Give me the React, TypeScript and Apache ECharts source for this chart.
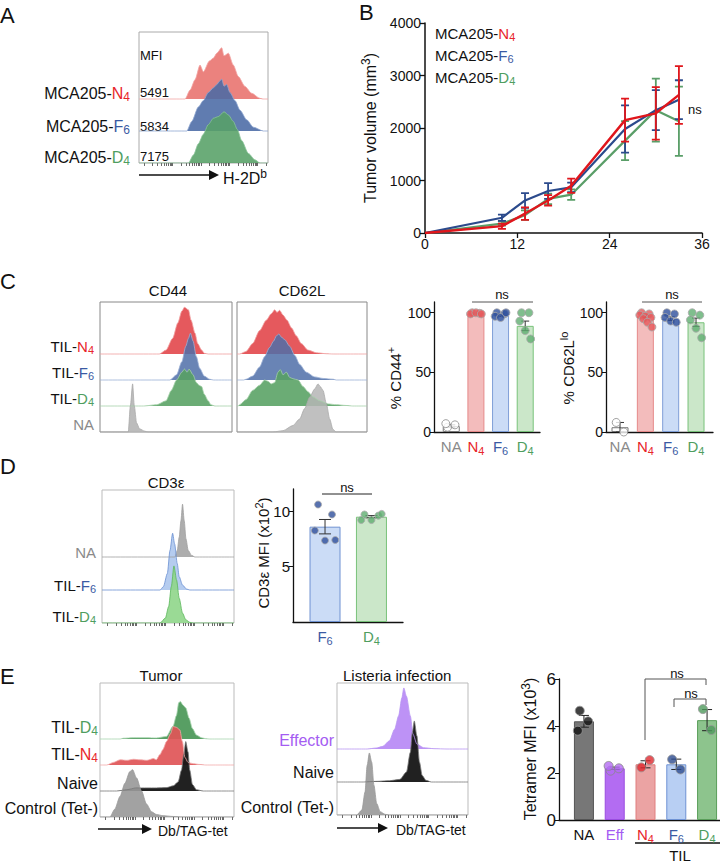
import React, { useEffect, useRef } from "react";
import * as echarts from "echarts";

const FONT = "'Liberation Sans', Arial, Helvetica, sans-serif";
const INK = "#111111";
const RED = "#e8262b";
const BLUE = "#3a5aa3";
const GREEN = "#4f9e5f";
const GRAY = "#8a8a8a";
const PURPLE = "#a45cf2";

// ---------- Panel A: H-2Db histograms (x: fluorescence 0-100, y: height in row units)
const histA_N4 = [[35.7,0],[39.6,0.28],[43.4,0.6],[47.3,1.06],[49.9,0.85],[54.6,1.19],[57.7,1.28],[60.3,1.43],[64.1,1.6],[65.9,1.35],[69.3,1.43],[73.1,1.06],[77,0.7],[82.2,0.39],[87.3,0.18],[93.8,0.02],[96,0]];
const histA_F6 = [[37,0],[40.9,0.3],[46,0.75],[49.9,0.95],[53.7,1.2],[57.7,1.35],[60.3,1.45],[62.3,1.55],[64.1,1.62],[65.9,1.4],[68,1.45],[70.5,1.2],[74.4,0.95],[78.3,0.65],[83.5,0.35],[88.6,0.12],[96.4,0]];
const histA_D4 = [[38.3,0],[42.2,0.25],[46,0.6],[49.9,0.9],[53.7,1.2],[57.7,1.4],[61.5,1.45],[65.9,1.6],[69.3,1.5],[73.1,1.3],[76.2,1.05],[79.6,0.7],[84.8,0.3],[89.9,0.1],[93.8,0]];
const mfiA = ["5491", "5834", "7175"];

// ---------- Panel B: tumor growth
const days = [0, 10, 13, 16, 19, 26, 30, 33];
const volN4 = [0, 130, 370, 620, 900, 2150, 2280, 2630];
const semN4 = [0, 50, 120, 100, 135, 410, 500, 550];
const volF6 = [0, 290, 620, 800, 870, 1980, 2340, 2540];
const semF6 = [0, 60, 140, 150, 90, 450, 380, 370];
const volD4 = [0, 180, 340, 650, 730, 1760, 2340, 2130];
const semD4 = [0, 40, 90, 100, 100, 370, 600, 660];

// ---------- Panel C: CD44 / CD62L histograms
const histC44_N4 = [[45,0],[50,0.15],[55,0.6],[59,1.2],[62,1.65],[64,1.8],[67,1.7],[69,1.3],[72,0.8],[74,0.4],[77,0.15],[79,0.03],[82,0]];
const histC44_F6 = [[53,0],[58,0.2],[62,0.7],[65,1.3],[67,1.6],[68.5,1.8],[70.5,1.5],[73,0.9],[75.5,0.45],[79,0.15],[83,0.03],[86,0]];
const histC44_D4 = [[33,0],[43,0.05],[50,0.2],[54,0.6],[58,1.0],[62,1.3],[64,1.42],[66,1.3],[67.5,1.42],[70.5,1.2],[73,0.9],[75,0.8],[77,0.75],[79,0.45],[82,0.2],[84,0.05],[87,0]];
const histC44_NA = [[21.4,0],[23,1.0],[24.7,1.85],[26,1.0],[27.7,0.35],[30,0.12],[34,0.03],[36.5,0]];
const histC62_N4 = [[2,0],[7,0.1],[12,0.4],[17.4,0.9],[22.5,1.3],[26.4,1.55],[29,1.7],[30.8,1.6],[32.8,1.68],[35.4,1.5],[38.5,1.3],[42,1.0],[45.6,0.7],[49.5,0.4],[54.6,0.15],[61,0.05],[68.7,0.01],[74,0]];
const histC62_F6 = [[5,0],[7,0.03],[12,0.15],[17.4,0.5],[21.3,0.9],[25,1.25],[28.2,1.5],[30.3,1.7],[32.3,1.77],[34.1,1.65],[36.7,1.55],[40.5,1.3],[44.4,0.95],[48.2,0.6],[53.3,0.3],[59.7,0.12],[66.2,0.06],[74,0.03],[76.4,0]];
const histC62_D4 = [[1,0],[2,0.05],[7,0.25],[12,0.6],[17.4,0.8],[21.3,1.0],[23.8,0.95],[26.4,0.85],[29,0.9],[31.5,1.3],[33.3,1.4],[35.4,1.2],[38,1.3],[40.5,1.1],[43,1.05],[47,1.0],[50.8,0.75],[54.6,0.55],[58.5,0.35],[63.6,0.2],[70,0.08],[76.4,0.05],[84,0.02],[89,0]];
const histC62_NA = [[27.7,0],[35.4,0.05],[43,0.25],[48.2,0.5],[52,0.9],[56,1.35],[59.7,1.65],[62.3,1.85],[64,1.75],[66.2,1.6],[68.7,1.1],[71.3,0.5],[73.8,0.1],[76.4,0]];

// ---------- Panel C: bar charts
const catsC = ["NA", "N4", "F6", "D4"];
const cd44Mean = [5, 99.5, 98, 89];
const cd44Sem = [1, 0.3, 1, 4];
const cd44Dots = [[4, 6, 7], [100, 99.5, 99, 100, 99], [100, 99, 97, 96, 100], [100, 100, 93, 85, 78]];
const cd62Mean = [4, 97, 95, 92];
const cd62Sem = [4, 1, 1.5, 3.5];
const cd62Dots = [[8, 0], [100, 99, 98, 97, 96, 95, 92, 88], [100, 99, 96, 93, 92], [100, 98, 94, 87, 79]];

// ---------- Panel D
const histD_NA = [[55.3,0],[57,0.2],[58.5,0.6],[59.8,1.1],[61,1.6],[62.3,1.1],[63.6,0.55],[65.3,0.2],[67.8,0.05],[70.4,0]];
const histD_F6 = [[44,0],[46.5,0.1],[49.5,0.5],[51.5,1.2],[53.5,1.72],[55,1.4],[57,0.8],[58.5,0.4],[61,0.15],[64,0.03],[66.5,0]];
const histD_D4 = [[44,0],[48,0.15],[50.5,0.5],[52.5,1.1],[54.5,1.73],[56.5,1.3],[58.5,0.75],[61,0.3],[63.5,0.1],[66.5,0.02],[69,0]];
const catsD = ["F6", "D4"];
const cd3Mean = [8.6, 9.5];
const cd3Sem = [0.65, 0.1];
const cd3Dots = [[10.6, 9.7, 8.25, 7.35, 7.4], [9.7, 9.6, 9.2, 9.2, 9.75]];

// ---------- Panel E
const histE_D4 = [[15,0],[17.4,0.03],[25,0.05],[35,0.05],[42,0.04],[49.6,0.1],[54.6,0.5],[57,0.9],[58.8,1.4],[60,1.44],[62,1.3],[64,1.2],[66.5,0.8],[69,0.4],[72,0.15],[75.7,0.05],[79,0.01],[82,0]];
const histE_N4 = [[5,0],[10,0.1],[15,0.2],[20,0.18],[25,0.22],[30,0.2],[35,0.18],[40,0.25],[42,0.2],[44.7,0.4],[47,0.6],[49.6,0.9],[52.6,1.2],[54.6,1.48],[57,1.45],[59.6,1.35],[61.5,0.9],[63.3,0.3],[65.7,0.1],[69.5,0.05],[74.4,0.02],[79,0]];
const histE_Naive = [[12.4,0],[20,0.05],[27,0.12],[35,0.12],[42,0.12],[49.6,0.13],[54.6,0.2],[58.3,0.35],[60.8,0.8],[62.5,1.4],[64,1.9],[65.7,1.5],[67,0.8],[69,0.25],[72,0.05],[77,0]];
const histE_Ctrl = [[7.4,0],[11,0.3],[15,0.8],[18.6,1.3],[22.3,1.75],[24.3,1.82],[27.3,1.5],[31,1.0],[34.7,0.5],[38.5,0.2],[42,0.1],[47,0.05],[54.6,0.02],[62,0]];
const histL_Eff = [[23,0],[30,0.03],[35,0.08],[40,0.25],[44,0.6],[47,1.0],[49.5,1.55],[51,1.85],[53,1.6],[56,1.0],[58,0.45],[61,0.15],[66,0.04],[74,0.01],[84,0]];
const histL_Naive = [[20,0],[30,0.02],[40,0.04],[48,0.08],[53,0.3],[56,0.9],[57.5,1.5],[59,1.85],[61,1.4],[63,0.6],[65,0.2],[68,0.05],[72,0]];
const histL_Ctrl = [[15,0],[19,0.15],[21.4,0.7],[23,1.5],[24.7,1.88],[26.5,1.6],[28.2,0.9],[30.3,0.35],[33,0.1],[36.7,0.02],[40,0]];
const catsE = ["NAk", "Eff", "N4", "F6", "D4"];
const tetMean = [4.2, 2.2, 2.37, 2.37, 4.25];
const tetSem = [0.25, 0.05, 0.15, 0.22, 0.45];
const tetDots = [[4.65, 4.2, 3.8], [2.1, 2.2, 2.3], [2.24, 2.55], [2.58, 2.15], [4.72, 3.83]];

// jitter pattern for dots (layout only)
const JITTER = [-0.15, 0.15, -0.22, 0.0, 0.22, -0.08, 0.08, 0.26];

const tok = (c: string, size: number, extra: any = {}) => ({ fill: c, color: c, fontSize: size, fontFamily: FONT, ...extra });
function mkRich(size: number) {
  const L = size + 4;
  const s = Math.round(size * 0.72);
  const lh = Math.round(size * 0.7);
  const sub = (c: string) => tok(c, s, { verticalAlign: "bottom", lineHeight: lh });
  const sup = (c: string) => tok(c, s, { verticalAlign: "top", lineHeight: lh });
  return {
    k: tok(INK, size, { lineHeight: L }), ks: sub(INK), kp: sup(INK),
    r: tok(RED, size, { lineHeight: L }), rs: sub(RED),
    b: tok(BLUE, size, { lineHeight: L }), bs: sub(BLUE),
    g: tok(GREEN, size, { lineHeight: L }), gs: sub(GREEN),
    n: tok(GRAY, size, { lineHeight: L }),
    p: tok(PURPLE, size, { lineHeight: L }),
  };
}
const catMarkup: Record<string, string> = {
  NA: "{n|NA}", NAk: "{k|NA}", N4: "{r|N}{rs|4}", F6: "{b|F}{bs|6}", D4: "{g|D}{gs|4}", Eff: "{p|Eff}",
};

function ridge(grid: number, pts: number[][], base: number, fill: string, line: string, opacity = 0.88) {
  const full = [[0, 0], ...pts, [100, 0]];
  return {
    type: "line", xAxisIndex: grid, yAxisIndex: grid, symbol: "none",
    smooth: 0.25, smoothMonotone: "x", silent: true,
    data: full.map((p) => [p[0], base + p[1]]),
    lineStyle: { color: line, width: 0.8 },
    areaStyle: { color: fill, opacity, origin: base },
  };
}

// error bars drawn as a broken line series; capHalf is in x-data units
function errSeries(grid: number, xs: number[], means: number[], sems: number[], color: string, capHalf: number, width: number) {
  const data: any[] = [];
  xs.forEach((x, i) => {
    const s = sems[i];
    if (!s) return;
    const lo = means[i] - s, hi = means[i] + s;
    data.push([x, lo], [x, hi], null, [x - capHalf, hi], [x + capHalf, hi], null, [x - capHalf, lo], [x + capHalf, lo], null);
  });
  return {
    type: "line", xAxisIndex: grid, yAxisIndex: grid, silent: true, symbol: "none",
    connectNulls: false, data, lineStyle: { color, width }, z: 3,
  };
}

function barSeries(grid: number, means: number[], fills: string[], borders: string[], width: number) {
  return {
    type: "bar", xAxisIndex: grid, yAxisIndex: grid, barWidth: width, silent: true,
    data: means.map((v, i) => ({ value: [i, v], itemStyle: { color: fills[i], borderColor: borders[i], borderWidth: 1 } })),
  };
}

function dotSeries(grid: number, groups: number[][], fills: string[], borders: string[], size: number, spread: number) {
  const data: any[] = [];
  groups.forEach((vals, gi) => {
    vals.forEach((v, i) => {
      data.push({ value: [gi + (vals.length > 1 ? JITTER[i] * spread : 0), v], itemStyle: { color: fills[gi], borderColor: borders[gi], borderWidth: 1 } });
    });
  });
  return { type: "scatter", xAxisIndex: grid, yAxisIndex: grid, symbolSize: size, silent: true, data, z: 4 };
}

const logTicks: number[] = [];
for (let d = 0; d < 5; d++) for (let k = 1; k < 10; k++) {
  const v = 4 + (d + Math.log10(k)) * 22;
  if (v < 100) logTicks.push(v);
}

function histX(grid: number, ticks: boolean) {
  return {
    gridIndex: grid, type: "value", min: 0, max: 100,
    axisLine: { show: false, onZero: false }, splitLine: { show: false }, axisLabel: { show: false },
    axisTick: { show: ticks, customValues: logTicks, length: 3, inside: false, lineStyle: { color: "#444", width: 0.8 } },
  };
}
function histY(grid: number, rows: number) {
  return { gridIndex: grid, type: "value", min: 0, max: rows, show: false, axisLine: { onZero: false } };
}
const axisLineSt = { show: true, onZero: false, lineStyle: { color: INK, width: 1.3 } };
function catX(grid: number, cats: string[], min: number, max: number, size: number) {
  const rich = mkRich(size);
  return {
    gridIndex: grid, type: "value", min, max,
    axisLine: axisLineSt, axisTick: { show: false }, splitLine: { show: false },
    axisLabel: {
      customValues: cats.map((_, i) => i), margin: 5,
      formatter: (v: number) => catMarkup[cats[Math.round(v)]] || "",
      rich,
    },
  };
}
function valY(grid: number, max: number, vals: number[], size: number) {
  return {
    gridIndex: grid, type: "value", min: 0, max,
    axisLine: axisLineSt, splitLine: { show: false },
    axisTick: { show: true, customValues: vals, length: 4, lineStyle: { color: INK } },
    axisLabel: { customValues: vals, fontSize: size, color: INK, fontFamily: FONT, margin: 3, formatter: (v: number) => String(v) },
  };
}

function txt(x: number, y: number, text: string, size: number, opts: any = {}) {
  return {
    type: "text", x, y, silent: true, rotation: opts.rotation || 0,
    style: {
      text, fontSize: size, fontFamily: FONT, fill: opts.fill || INK,
      align: opts.align || "left", verticalAlign: "middle", rich: mkRich(size),
    },
  };
}
function arrow(x1: number, x2: number, y: number) {
  return [
    { type: "line", shape: { x1, y1: y, x2: x2 - 8, y2: y }, style: { stroke: INK, lineWidth: 1.3 }, silent: true },
    { type: "polygon", shape: { points: [[x2 - 10, y - 5], [x2, y], [x2 - 10, y + 5]] }, style: { fill: INK }, silent: true },
  ];
}
function seg(points: number[][], color = "#555", w = 1) {
  return { type: "polyline", shape: { points }, style: { stroke: color, lineWidth: w, fill: null }, silent: true };
}

export default function App() {
  const ref = useRef<HTMLDivElement>(null);
  useEffect(() => {
    if (!ref.current) return;
    const chart = echarts.init(ref.current, undefined, { renderer: "svg" });
    const g = (o: any) => ({ outerBoundsMode: "none", containLabel: false, ...o });
    const grid = [
      g({ left: 139, top: 32, width: 129, height: 131, show: true, borderColor: "#aaa", borderWidth: 1 }),
      g({ left: 425, top: 23, width: 277, height: 210 }),
      g({ left: 100, top: 302, width: 132, height: 130, show: true, borderColor: "#888", borderWidth: 1 }),
      g({ left: 237, top: 302, width: 130, height: 130, show: true, borderColor: "#888", borderWidth: 1 }),
      g({ left: 434, top: 302, width: 106, height: 130 }),
      g({ left: 606, top: 302, width: 107, height: 130 }),
      g({ left: 102, top: 490, width: 132, height: 133, show: true, borderColor: "#bbb", borderWidth: 1 }),
      g({ left: 293, top: 489, width: 110, height: 133 }),
      g({ left: 100, top: 683, width: 134, height: 134, show: true, borderColor: "#bbb", borderWidth: 1 }),
      g({ left: 337, top: 683, width: 131, height: 132, show: true, borderColor: "#bbb", borderWidth: 1 }),
      g({ left: 559, top: 679, width: 161, height: 141 }),
    ];
    const bAxisLabel = { fontSize: 14, color: INK, fontFamily: FONT, margin: 4, formatter: (v: number) => String(v) };
    const bLine = { show: true, onZero: false, lineStyle: { color: INK, width: 1.5 } };
    const xAxis: any[] = [
      histX(0, true),
      { gridIndex: 1, type: "value", min: 0, max: 36, interval: 12, axisLine: bLine, axisTick: { length: 5, lineStyle: { color: INK, width: 1.3 } }, axisLabel: bAxisLabel, splitLine: { show: false } },
      histX(2, false),
      histX(3, false),
      catX(4, catsC, -0.7, 3.6, 15),
      catX(5, catsC, -0.553, 3.67, 15),
      histX(6, true),
      catX(7, catsD, -0.69, 1.68, 15),
      histX(8, true),
      histX(9, true),
      catX(10, catsE, -0.81, 4.42, 15),
    ];
    const yAxis: any[] = [
      histY(0, 131 / 32),
      { gridIndex: 1, type: "value", min: 0, max: 4000, interval: 1000, axisLine: bLine, axisTick: { show: true, length: 5, lineStyle: { color: INK, width: 1.3 } }, axisLabel: bAxisLabel, splitLine: { show: false } },
      histY(2, 5),
      histY(3, 5),
      valY(4, 109, [0, 50, 100], 14),
      valY(5, 109, [0, 50, 100], 14),
      histY(6, 133 / 33),
      valY(7, 12, [5, 10], 15),
      histY(8, 134 / 26),
      histY(9, 4),
      valY(10, 6, [0, 2, 4, 6], 17),
    ];

    // cap half widths in x-data units (px / px-per-unit)
    const capB = 4 / (277 / 36);
    const capC4 = 4 / (106 / 4.3);
    const capC5 = 4 / (107 / 4.223);
    const capD = 6 / (110 / 2.37);
    const capE = 5 / (161 / 5.23);

    const series: any[] = [
      // A
      ridge(0, histA_N4, 2, "#e8716c", "#f2a5a3"),
      ridge(0, histA_F6, 1, "#4a6aa5", "#8ea6d0"),
      ridge(0, histA_D4, 0, "#56a067", "#8cc59a"),
      // B
      { type: "line", xAxisIndex: 1, yAxisIndex: 1, symbol: "none", data: days.map((d, i) => [d, volD4[i]]), lineStyle: { color: "#5a9e68", width: 2.2 }, silent: true },
      errSeries(1, days, volD4, semD4, "#5a9e68", capB, 1.8),
      { type: "line", xAxisIndex: 1, yAxisIndex: 1, symbol: "none", data: days.map((d, i) => [d, volF6[i]]), lineStyle: { color: "#2b4a8c", width: 2.2 }, silent: true },
      errSeries(1, days, volF6, semF6, "#2b4a8c", capB, 1.8),
      { type: "line", xAxisIndex: 1, yAxisIndex: 1, symbol: "none", data: days.map((d, i) => [d, volN4[i]]), lineStyle: { color: "#e0161c", width: 2.4 }, silent: true },
      errSeries(1, days, volN4, semN4, "#e0161c", capB, 1.8),
      // C histograms
      ridge(2, histC44_N4, 3, "#e2474b", "#f0a0a0", 0.9),
      ridge(2, histC44_F6, 2, "#4f6fa8", "#9ab0d6", 0.85),
      ridge(2, histC44_D4, 1, "#56a062", "#a5d0a8", 0.88),
      ridge(2, histC44_NA, 0, "#b5b5b5", "#aaaaaa", 0.9),
      ridge(3, histC62_N4, 3, "#e2474b", "#f0a0a0", 0.9),
      ridge(3, histC62_F6, 2, "#4f6fa8", "#9ab0d6", 0.85),
      ridge(3, histC62_D4, 1, "#56a062", "#a5d0a8", 0.88),
      ridge(3, histC62_NA, 0, "#b5b5b5", "#aaaaaa", 0.85),
      // C bars
      barSeries(4, cd44Mean, ["#ffffff", "#f3bcbc", "#cbdcf6", "#cbe7c9"], ["#777777", "#e58a8a", "#7f9fd8", "#79c27a"], 17),
      errSeries(4, [0, 1, 2, 3], cd44Mean, cd44Sem, "#333", capC4, 1),
      dotSeries(4, cd44Dots, ["#ffffff", "#e6575a", "#2e4f9b", "#5fae70"], ["#888", "#aaa", "#aaa", "#aaa"], 8, 1),
      barSeries(5, cd62Mean, ["#ffffff", "#f3bcbc", "#cbdcf6", "#cbe7c9"], ["#777777", "#e58a8a", "#7f9fd8", "#79c27a"], 17),
      errSeries(5, [0, 1, 2, 3], cd62Mean, cd62Sem, "#333", capC5, 1),
      dotSeries(5, cd62Dots, ["#ffffff", "#e6575a", "#2e4f9b", "#5fae70"], ["#888", "#aaa", "#aaa", "#aaa"], 8, 1),
      // D
      ridge(6, histD_NA, 2, "#a9a9a9", "#a0a0a0", 0.95),
      ridge(6, histD_F6, 1, "#a8c3ec", "#6a8fd2", 0.85),
      ridge(6, histD_D4, 0, "#8fd68a", "#5cb85c", 0.9),
      barSeries(7, cd3Mean, ["#cbdcf6", "#cbe7c9"], ["#6f92d2", "#79c27a"], 31),
      errSeries(7, [0, 1], cd3Mean, cd3Sem, "#333", capD, 1),
      dotSeries(7, cd3Dots, ["#2e4f9b", "#5fae70"], ["#aaa", "#aaa"], 7, 1),
      // E
      ridge(8, histE_D4, 3, "#4f9a5c", "#a6d4ad", 0.95),
      ridge(8, histE_N4, 2, "#e05557", "#f2aaaa", 0.92),
      ridge(8, histE_Naive, 1, "#151515", "#777777", 0.95),
      ridge(8, histE_Ctrl, 0, "#9a9a9a", "#999999", 0.92),
      ridge(9, histL_Eff, 2, "#b98cf5", "#b896f2", 0.95),
      ridge(9, histL_Naive, 1, "#151515", "#777777", 0.95),
      ridge(9, histL_Ctrl, 0, "#9a9a9a", "#999999", 0.92),
      barSeries(10, tetMean, ["#777777", "#b36cf2", "#eba3a3", "#b8cff3", "#8dc48d"], ["#555555", "#9a4de0", "#e07e7e", "#6f93d4", "#5a9e5a"], 20),
      errSeries(10, [0, 1, 2, 3, 4], tetMean, tetSem, "#222", capE, 1),
      dotSeries(10, tetDots, ["#111111", "#b36cf2", "#e0282e", "#2d4b8e", "#4f9a5c"], ["#999", "#888", "#999", "#999", "#999"], 9, 0.9),
    ];

    const graphic: any[] = [
      // panel letters
      txt(0, 15, "A", 22), txt(359, 12, "B", 22), txt(0, 281, "C", 22), txt(0, 466, "D", 22), txt(0, 676, "E", 22),
      // A
      txt(140, 55, "MFI", 13),
      txt(140, 92, mfiA[0], 13), txt(140, 126, mfiA[1], 13), txt(140, 156, mfiA[2], 13),
      txt(130, 93, "{k|MCA205-}{r|N}{rs|4}", 16, { align: "right" }),
      txt(130, 126, "{k|MCA205-}{b|F}{bs|6}", 16, { align: "right" }),
      txt(130, 157, "{k|MCA205-}{g|D}{gs|4}", 16, { align: "right" }),
      ...arrow(139, 219, 175),
      txt(223, 178, "{k|H-2D}{kp|b}", 16),
      // B
      txt(435, 33, "{k|MCA205-}{r|N}{rs|4}", 15),
      txt(435, 55, "{k|MCA205-}{b|F}{bs|6}", 15),
      txt(435, 77, "{k|MCA205-}{g|D}{gs|4}", 15),
      txt(688, 109, "ns", 13),
      txt(370, 128, "{k|Tumor volume (mm}{kp|3}{k|)}", 16, { align: "center", rotation: Math.PI / 2 }),
      // C
      txt(168, 290, "CD44", 15, { align: "center" }),
      txt(302, 290, "CD62L", 15, { align: "center" }),
      txt(94, 346, "{k|TIL-}{r|N}{rs|4}", 15, { align: "right" }),
      txt(94, 372, "{k|TIL-}{b|F}{bs|6}", 15, { align: "right" }),
      txt(94, 398, "{k|TIL-}{g|D}{gs|4}", 15, { align: "right" }),
      txt(94, 424, "{n|NA}", 15, { align: "right" }),
      txt(395, 378, "{k|% CD44}{kp|+}", 15, { align: "center", rotation: Math.PI / 2 }),
      txt(568, 368, "{k|% CD62L}{kp|lo}", 15, { align: "center", rotation: Math.PI / 2 }),
      txt(502, 294, "ns", 13, { align: "center" }),
      seg([[472, 302], [533, 302]]),
      txt(672, 294, "ns", 13, { align: "center" }),
      seg([[642, 302], [702, 302]]),
      // D
      txt(166, 482, "CD3ε", 15, { align: "center" }),
      txt(96, 552, "{n|NA}", 15, { align: "right" }),
      txt(96, 585, "{k|TIL-}{b|F}{bs|6}", 15, { align: "right" }),
      txt(96, 616, "{k|TIL-}{g|D}{gs|4}", 15, { align: "right" }),
      txt(263, 553, "{k|CD3ε MFI (x10}{kp|2}{k|)}", 15, { align: "center", rotation: Math.PI / 2 }),
      txt(347, 487, "ns", 13, { align: "center" }),
      seg([[322, 494], [372, 494]], "#222"),
      // E
      txt(161, 675, "Tumor", 15, { align: "center" }),
      txt(343, 675, "Listeria infection", 15),
      txt(98, 727, "{k|TIL-}{g|D}{gs|4}", 16, { align: "right" }),
      txt(98, 754, "{k|TIL-}{r|N}{rs|4}", 16, { align: "right" }),
      txt(98, 783, "Naive", 16, { align: "right" }),
      txt(98, 808, "Control (Tet-)", 16, { align: "right" }),
      txt(334, 740, "{p|Effector}", 16, { align: "right" }),
      txt(334, 772, "Naive", 16, { align: "right" }),
      txt(334, 807, "Control (Tet-)", 16, { align: "right" }),
      ...arrow(98, 152, 829),
      txt(158, 831, "Db/TAG-tet", 14),
      ...arrow(337, 388, 828),
      txt(396, 830, "Db/TAG-tet", 14),
      txt(530, 749, "{k|Tetramer MFI (x10}{kp|3}{k|)}", 16, { align: "center", rotation: Math.PI / 2 }),
      seg([[645, 740], [645, 679], [706, 679], [706, 685]]),
      txt(677, 673, "ns", 13, { align: "center" }),
      seg([[674, 707], [674, 699], [706, 699], [706, 705]]),
      txt(691, 693, "ns", 13, { align: "center" }),
      seg([[635, 843], [720, 843]], INK, 1.5),
      txt(680, 855, "TIL", 15, { align: "center" }),
    ];

    chart.setOption({
      animation: false,
      backgroundColor: "#ffffff",
      textStyle: { fontFamily: FONT },
      grid, xAxis, yAxis, series, graphic,
    });
    return () => chart.dispose();
  }, []);
  return <div ref={ref} style={{ position: "absolute", left: 0, top: 0, width: 720, height: 865 }} />;
}
